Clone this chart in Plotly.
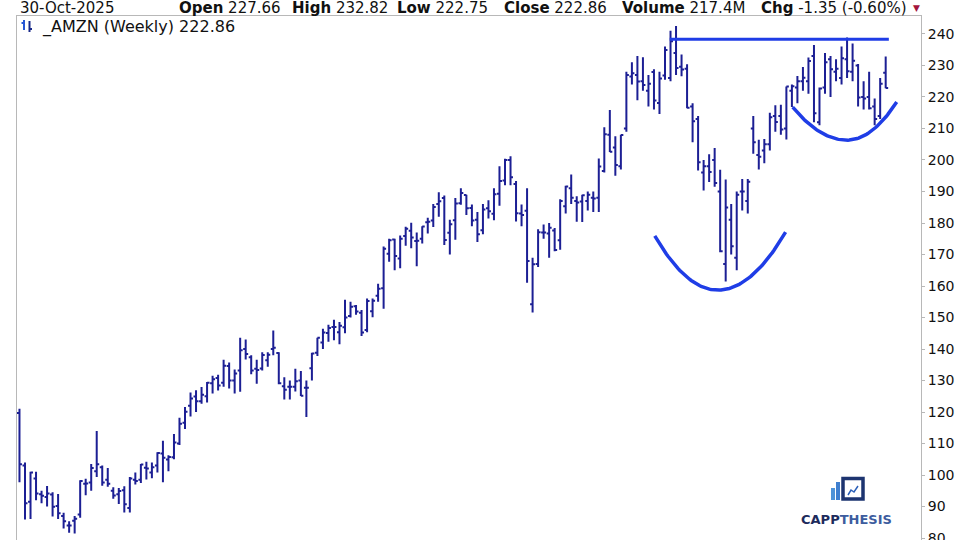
import numpy as np
import pandas as pd
import plotly.graph_objects as go

# ---------------- data (weekly AMZN) ----------------
start_week = "2022-10-28"
n_weeks = 158
dates = pd.date_range(start_week, periods=n_weeks, freq="W-FRI")

opens = [119.7, 103.0, 91.5, 98.9, 93.9, 93.0, 93.8, 90.2, 87.0, 84.0,
         85.5, 87.5, 97.2, 97.6, 101.2, 102.5, 98.5, 95.0, 93.9, 95.2,
         89.5, 98.5, 98.5, 102.3, 100.8, 103.0, 106.8, 104.9, 105.6, 110.0,
         116.6, 122.0, 124.9, 123.4, 125.0, 129.1, 130.8, 129.3, 134.6, 130.0,
         133.2, 140.0, 137.4, 133.7, 133.8, 136.4, 140.0, 138.7, 128.2, 128.0,
         128.0, 130.0, 127.7, 133.9, 138.8, 142.1, 145.1, 147.0, 145.3, 146.9,
         150.5, 153.6, 151.5, 146.0, 152.0, 156.9, 159.3, 170.2, 174.8, 168.7,
         175.9, 177.5, 174.3, 175.0, 180.2, 180.8, 186.0, 187.9, 176.9, 180.9,
         186.3, 188.9, 184.8, 181.0, 177.7, 184.7, 182.9, 189.3, 193.5, 200.0,
         192.4, 183.0, 183.9, 154.2, 167.0, 177.0, 176.7, 177.6, 174.5, 185.3,
         191.0, 187.0, 186.8, 187.0, 188.0, 188.0, 196.5, 208.0, 204.0, 198.0,
         210.0, 226.5, 227.0, 225.0, 222.0, 227.9, 218.1, 226.8, 226.0, 234.0,
         229.6, 229.0, 217.0, 213.0, 196.0, 198.0, 200.0, 190.0, 167.0, 181.0,
         169.0, 190.0, 187.0, 210.0, 201.6, 203.0, 205.0, 214.0, 214.0, 210.0,
         222.0, 223.0, 225.0, 225.0, 233.0, 212.0, 223.0, 232.0, 228.0, 226.0,
         232.0, 228.0, 230.0, 220.0, 220.0, 217.0, 214.0, 227.66]
highs = [121.0, 104.0, 101.0, 101.0, 95.0, 96.5, 94.5, 94.0, 88.0, 85.3,
         87.0, 98.3, 98.8, 103.5, 114.0, 103.0, 102.2, 96.1, 95.9, 96.4,
         99.4, 100.8, 103.5, 104.2, 104.0, 107.2, 110.9, 106.3, 113.0, 118.2,
         121.6, 126.2, 126.9, 127.9, 129.5, 131.5, 131.8, 136.6, 135.7, 133.5,
         143.6, 143.0, 138.0, 136.6, 139.0, 139.0, 145.9, 139.0, 131.0, 130.0,
         133.7, 133.0, 130.0, 138.8, 143.6, 146.4, 147.7, 149.3, 148.6, 155.6,
         155.0, 154.0, 152.4, 156.0, 156.0, 160.7, 172.5, 175.0, 175.0, 176.0,
         178.8, 180.1, 177.0, 179.0, 181.7, 186.0, 189.8, 188.7, 181.0, 187.9,
         191.0, 189.0, 185.9, 183.5, 186.0, 187.2, 191.0, 198.0, 200.4, 201.2,
         193.3, 185.9, 191.0, 169.0, 178.0, 179.5, 180.0, 178.4, 187.5, 191.8,
         195.4, 188.5, 189.0, 190.0, 190.0, 200.5, 210.4, 215.9, 207.5, 208.0,
         228.0, 231.0, 233.0, 232.6, 227.0, 228.8, 228.0, 236.0, 241.0, 242.5,
         233.5, 230.4, 218.0, 214.0, 200.0, 201.8, 203.8, 196.9, 193.8, 186.0,
         190.0, 194.0, 194.0, 214.0, 206.4, 206.7, 215.0, 217.4, 217.5, 223.3,
         224.0, 226.7, 229.5, 232.5, 236.5, 223.0, 234.0, 233.0, 232.0, 236.0,
         238.9, 237.0, 230.5, 225.0, 228.0, 219.5, 226.0, 232.82]
lows = [97.7, 85.9, 86.0, 92.0, 91.0, 90.0, 86.8, 86.0, 83.0, 81.7,
        81.4, 86.4, 93.6, 95.0, 99.4, 96.6, 96.3, 92.5, 90.8, 88.1,
        88.1, 97.0, 97.5, 98.6, 99.0, 100.8, 97.7, 101.2, 105.0, 109.5,
        114.6, 118.6, 120.0, 122.6, 123.0, 125.9, 126.8, 128.0, 127.5, 125.9,
        126.4, 136.7, 132.0, 129.0, 133.2, 134.4, 138.0, 128.8, 124.0, 124.0,
        126.5, 125.1, 118.4, 130.0, 137.8, 140.0, 142.3, 142.8, 141.5, 145.0,
        150.0, 150.9, 144.1, 145.3, 150.1, 155.0, 152.8, 167.7, 165.0, 165.6,
        172.8, 172.0, 166.3, 173.5, 176.7, 178.7, 182.0, 173.0, 170.0, 174.7,
        185.8, 182.5, 179.0, 174.0, 176.4, 181.4, 180.9, 185.5, 192.0, 192.0,
        180.5, 179.0, 161.0, 151.6, 166.0, 175.0, 169.0, 171.0, 171.5, 183.0,
        186.0, 180.4, 180.3, 184.0, 183.5, 183.5, 196.0, 202.5, 195.0, 197.0,
        209.0, 224.0, 219.0, 222.0, 217.0, 216.0, 214.6, 225.5, 225.0, 227.0,
        226.6, 216.4, 205.6, 196.7, 190.3, 193.0, 191.5, 170.7, 161.4, 170.0,
        165.0, 184.0, 183.0, 202.0, 197.0, 199.0, 203.0, 209.0, 208.0, 206.5,
        216.8, 218.0, 222.0, 221.0, 212.0, 211.0, 221.0, 220.0, 225.0, 224.0,
        226.0, 225.0, 217.0, 216.0, 216.0, 211.0, 213.0, 222.75]
closes = [103.4, 91.0, 100.8, 94.1, 93.4, 94.1, 89.9, 87.9, 85.3, 84.0,
          86.1, 98.1, 97.3, 102.2, 103.4, 97.6, 97.2, 93.5, 94.9, 90.7,
          98.9, 98.1, 103.3, 102.1, 102.5, 107.0, 105.5, 105.7, 110.3, 116.3,
          120.1, 124.3, 123.4, 125.5, 129.3, 130.4, 128.4, 134.7, 130.0, 132.2,
          139.6, 138.4, 133.2, 133.3, 138.1, 138.2, 140.4, 129.1, 127.1, 128.0,
          129.8, 125.2, 127.7, 138.6, 143.6, 145.2, 146.7, 147.0, 147.4, 150.0,
          153.4, 151.9, 145.2, 155.2, 155.3, 159.1, 171.8, 174.5, 169.5, 175.0,
          178.2, 175.4, 174.4, 178.9, 180.4, 185.1, 186.9, 174.6, 179.6, 186.2,
          189.5, 184.7, 180.8, 176.4, 184.3, 183.7, 189.1, 193.3, 200.0, 194.5,
          183.1, 182.5, 167.9, 166.9, 177.1, 177.0, 178.5, 171.4, 187.0, 191.6,
          188.0, 186.5, 188.8, 189.0, 187.8, 197.9, 208.2, 202.6, 198.4, 207.9,
          227.0, 227.5, 224.9, 223.8, 224.2, 218.9, 225.9, 234.9, 237.7, 229.2,
          228.7, 216.6, 212.3, 199.3, 198.0, 196.2, 192.7, 171.0, 184.9, 172.6,
          189.0, 190.0, 193.1, 205.6, 201.0, 205.0, 213.6, 212.1, 209.7, 223.3,
          223.4, 225.0, 226.1, 231.4, 214.8, 222.7, 231.0, 228.8, 229.0, 232.3,
          228.2, 231.5, 219.8, 219.5, 216.4, 213.0, 224.2, 222.86]

# annotations drawn on the chart (in data units)
resistance_level = 238.3
resistance_dates = ["2025-01-30", "2025-11-04"]
big_cup_dates = ["2025-01-11", "2025-04-01", "2025-06-26"]
big_cup_values = [175.9, 158.7, 177.1]
small_cup_dates = ["2025-07-05", "2025-09-12", "2025-11-14"]
small_cup_values = [216.8, 206.3, 218.4]

header_date = "30-Oct-2025"
header_items = [("Open", "227.66"), ("High", "232.82"), ("Low", "222.75"),
                ("Close", "222.86"), ("Volume", "217.4M"), ("Chg", "-1.35 (-0.60%)")]
legend_text = "_AMZN (Weekly) 222.86"

y_ticks = list(range(80, 250, 10))

# ---------------- styling / layout ----------------
W, H = 960, 540
ML, MR, MT, MB = 17, 39, 16, 0
PW, PH = W - ML - MR, H - MT - MB
BAR = "#1c1f94"
ANN = "#1f3de6"
FRAME = "#b8b8b8"
FONT = "DejaVu Sans"


def px_x(px):
    return (px - ML) / PW


def px_y(py):
    return (H - MB - py) / PH


def cup(dates_, vals, n=80):
    t = pd.to_datetime(dates_).astype("int64").to_numpy() / 1e6
    tl, tm, tr = t
    yl, ym, yr = vals
    kl = (yl - ym) / (tl - tm) ** 2
    kr = (yr - ym) / (tr - tm) ** 2
    tt = np.linspace(tl, tr, n)
    yy = np.where(tt < tm, ym + kl * (tt - tm) ** 2, ym + kr * (tt - tm) ** 2)
    return pd.to_datetime(tt, unit="ms"), yy


fig = go.Figure()
fig.add_trace(go.Ohlc(
    x=dates, open=opens, high=highs, low=lows, close=closes,
    increasing=dict(line=dict(color=BAR, width=2)),
    decreasing=dict(line=dict(color=BAR, width=2)),
    tickwidth=0.45, showlegend=False, hoverinfo="skip"))

fig.add_trace(go.Scatter(x=pd.to_datetime(resistance_dates), y=[resistance_level] * 2,
                         mode="lines", line=dict(color=ANN, width=3),
                         showlegend=False, hoverinfo="skip"))
for d, v in [(big_cup_dates, big_cup_values), (small_cup_dates, small_cup_values)]:
    cx, cy = cup(d, v)
    fig.add_trace(go.Scatter(x=cx, y=cy, mode="lines", line=dict(color=ANN, width=3.5),
                             showlegend=False, hoverinfo="skip"))

week = pd.Timedelta(days=7)
x0 = dates[0] - 0.45 * week
x1 = dates[0] + 163.4 * week

fig.update_layout(
    width=W, height=H, margin=dict(l=ML, r=MR, t=MT, b=MB, autoexpand=False),
    paper_bgcolor="white", plot_bgcolor="white",
    font=dict(family=FONT, size=14, color="#111111"),
    xaxis=dict(type="date", range=[x0, x1], showticklabels=False, showgrid=False,
               zeroline=False, rangeslider=dict(visible=False), side="top",
               showline=True, linecolor=FRAME, linewidth=1, ticks=""),
    yaxis=dict(side="right", range=[79.37, 245.71], tickmode="array",
               tickvals=y_ticks, ticktext=[str(v) for v in y_ticks],
               showgrid=False, zeroline=False, showline=True, mirror=True,
               linecolor=FRAME, linewidth=1, ticks="outside", ticklen=3,
               tickcolor=FRAME, ticklabeloverflow="allow",
               tickfont=dict(family=FONT, size=14, color="#111111")),
)

ann = []
# header row
ann.append(dict(x=px_x(18), y=px_y(8), xref="paper", yref="paper", xanchor="left",
                yanchor="middle", text=header_date, showarrow=False,
                font=dict(family=FONT, size=15, color="#111111")))
header_x = [177, 290, 395, 502, 620, 759]
for (lab, val), hx in zip(header_items, header_x):
    ann.append(dict(x=px_x(hx), y=px_y(8), xref="paper", yref="paper", xanchor="left",
                    yanchor="middle", text=f"<b>{lab}</b> {val}", showarrow=False,
                    font=dict(family=FONT, size=15, color="#111111")))
ann.append(dict(x=px_x(911), y=px_y(8), xref="paper", yref="paper", xanchor="left",
                yanchor="middle", text="▼", showarrow=False,
                font=dict(family=FONT, size=9, color="#a3143c")))
# legend row
ann.append(dict(x=px_x(40), y=px_y(27.5), xref="paper", yref="paper", xanchor="left",
                yanchor="middle", text=legend_text, showarrow=False,
                font=dict(family=FONT, size=16, color="#111111")))
# logo text
ann.append(dict(x=px_x(846), y=px_y(519), xref="paper", yref="paper", xanchor="center",
                yanchor="middle", showarrow=False,
                text="<b><span style='color:#1d2b5c'>CAPP</span><span style='color:#3d5c9e'>THESIS</span></b>",
                font=dict(family=FONT, size=13)))
fig.update_layout(annotations=ann)

shapes = []
# legend icon
icon = "#2757d6"
shapes.append(dict(type="line", xref="paper", yref="paper", x0=px_x(24), x1=px_x(24),
                   y0=px_y(20), y1=px_y(30), line=dict(color=icon, width=2)))
shapes.append(dict(type="line", xref="paper", yref="paper", x0=px_x(21.5), x1=px_x(24),
                   y0=px_y(23), y1=px_y(23), line=dict(color=icon, width=2)))
shapes.append(dict(type="line", xref="paper", yref="paper", x0=px_x(29.5), x1=px_x(29.5),
                   y0=px_y(21), y1=px_y(32), line=dict(color="#1a2a8a", width=2)))
shapes.append(dict(type="line", xref="paper", yref="paper", x0=px_x(29.5), x1=px_x(32),
                   y0=px_y(29), y1=px_y(29), line=dict(color="#1a2a8a", width=2)))
# logo icon
shapes.append(dict(type="rect", xref="paper", yref="paper", x0=px_x(831), x1=px_x(835),
                   y0=px_y(500), y1=px_y(488), fillcolor="#4f93d8", line=dict(width=0)))
shapes.append(dict(type="rect", xref="paper", yref="paper", x0=px_x(836), x1=px_x(840),
                   y0=px_y(500), y1=px_y(482), fillcolor="#3f7fcf", line=dict(width=0)))
shapes.append(dict(type="rect", xref="paper", yref="paper", x0=px_x(843), x1=px_x(863),
                   y0=px_y(499), y1=px_y(478.5), fillcolor="rgba(0,0,0,0)",
                   line=dict(color="#1d3470", width=3.5)))
shapes.append(dict(type="path", xref="paper", yref="paper",
                   path=f"M {px_x(848)},{px_y(495)} L {px_x(851)},{px_y(490)} L {px_x(854)},{px_y(492)} L {px_x(858)},{px_y(486)}",
                   line=dict(color="#2a5fb8", width=1.5)))
fig.update_layout(shapes=shapes)

fig.write_html("out.html", config={"displayModeBar": False},
               post_script="document.body.style.margin='0';document.body.style.overflow='hidden';")
